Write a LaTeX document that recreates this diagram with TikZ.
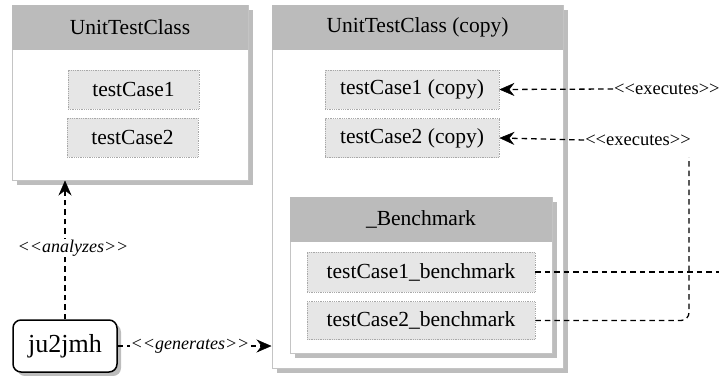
\documentclass[tikz,border=0pt]{standalone}
\usepackage{fontspec}
\setmainfont{Liberation Serif}
\usetikzlibrary{arrows.meta,shadows}
\definecolor{hdr}{HTML}{BBBBBB}
\definecolor{shd}{HTML}{BDBDBD}
\definecolor{frm}{HTML}{C4C4C4}
\definecolor{tcfill}{HTML}{E6E6E6}
\definecolor{tcline}{HTML}{A8A8A8}
\newcommand{\dlt}{<\kern0pt<}
\newcommand{\dgt}{>\kern0pt>}
\begin{document}
\begin{tikzpicture}[x=1pt,y=-1pt,
  classbox/.style={draw=frm, line width=1pt, fill=white, rectangle, inner sep=0pt,
    drop shadow={shadow xshift=5pt, shadow yshift=-5pt, fill=shd, opacity=1}},
  hdrbox/.style={fill=hdr, draw=none, rectangle, inner sep=0pt, font=\fontsize{21.5}{24}\selectfont},
  tcbox/.style={fill=tcfill, draw=tcline, densely dotted, line width=0.8pt, rectangle, inner sep=0pt,
    font=\fontsize{21.5}{24}\selectfont},
  toolbox/.style={draw=black, line width=1.5pt, fill=white, rounded corners=8pt, rectangle, inner sep=0pt,
    minimum width=104pt, minimum height=52pt, font=\fontsize{26}{30}\selectfont,
    drop shadow={shadow xshift=4pt, shadow yshift=-4pt, fill=shd, opacity=1}},
  conn/.style={draw=black, line width=1.3pt, dash pattern=on 5.5pt off 4pt},
  tip/.style={-{Stealth[length=15pt,width=13pt,inset=5pt,line width=0.5pt]}},
  lbl/.style={fill=white, inner sep=1pt, font=\fontsize{18.5}{22}\selectfont},
  ilbl/.style={fill=white, inner sep=1pt, font=\fontsize{18}{22}\selectfont\itshape},
]
\useasboundingbox (0,0) rectangle (719,375);

% left class
\node[classbox, minimum width=236pt, minimum height=175pt] (cls) at (130,92.5) {};
\node[hdrbox, minimum width=236pt, minimum height=45pt] (clsh) at (130,27.5) {UnitTestClass};
\node[tcbox, minimum width=131pt, minimum height=39pt] (tc1) at (133.5,89.5) {testCase1};
\node[tcbox, minimum width=131pt, minimum height=39pt] (tc2) at (132.5,137.5) {testCase2};

% copy class
\node[classbox, minimum width=291pt, minimum height=363pt] (big) at (417.5,186.5) {};
\node[hdrbox, minimum width=291pt, minimum height=45pt] (bigh) at (417.5,27.5) {UnitTestClass (copy)};
\node[tcbox, minimum width=174pt, minimum height=39pt] (tc1c) at (412,89.5) {testCase1 (copy)};
\node[tcbox, minimum width=174pt, minimum height=39pt] (tc2c) at (412,138) {testCase2 (copy)};

% benchmark class
\node[classbox, minimum width=262pt, minimum height=156pt] (bm) at (421,275) {};
\node[hdrbox, minimum width=262pt, minimum height=45pt] (bmh) at (421,219.5) {\_Benchmark};
\node[tcbox, minimum width=228pt, minimum height=40pt] (tc1b) at (421,272) {testCase1\_benchmark};
\node[tcbox, minimum width=228pt, minimum height=38pt] (tc2b) at (421,320.5) {testCase2\_benchmark};

% tool
\node[toolbox] (ju) at (65,346) {ju2jmh};

% analyzes
\draw[conn, tip] (ju.north) -- (ju.north |- cls.south);
\node[ilbl] (an) at (73,248) {\dlt analyzes\dgt};

% generates
\draw[conn, tip] (ju.east) -- (big.west |- ju.east);
\node[ilbl] (gen) at (190,346) {\dlt generates\dgt};

% executes 1
\coordinate (off1) at (760,272);
\draw[conn] (tc1b.east) -- (off1);
\node[lbl, fill=none, anchor=west] (ex1) at (613,89) {\dlt executes\dgt};
\draw[conn, tip] (ex1.west) -- (tc1c.east);

% executes 2
\coordinate (up2) at (689,157);
\draw[conn, rounded corners=8pt] (tc2b.east) -| (up2);
\node[lbl, fill=none] (ex2) at (638,140) {\dlt executes\dgt};
\draw[conn, tip] (ex2.west) -- (tc2c.east);
\end{tikzpicture}
\end{document}
